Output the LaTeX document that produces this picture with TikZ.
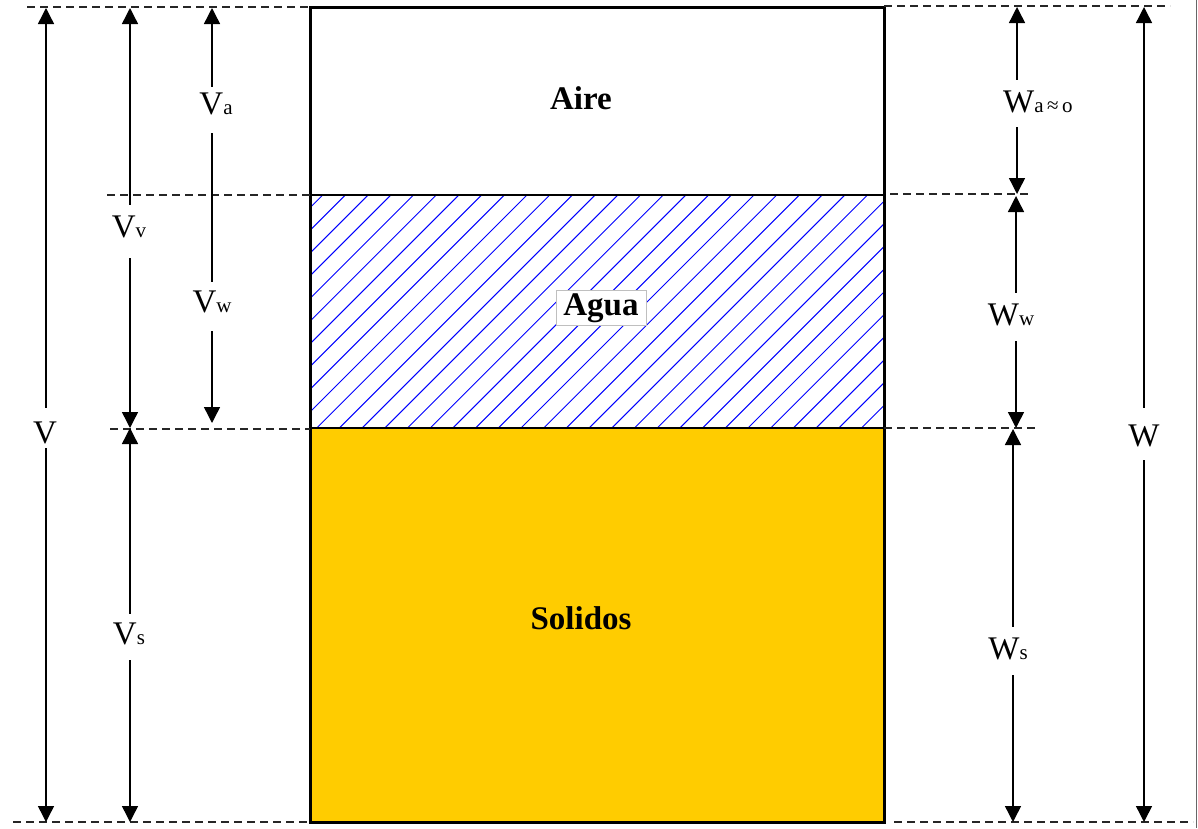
\documentclass[tikz,border=0pt]{standalone}
\usepackage{fontspec}
\setmainfont{Liberation Serif}
\usetikzlibrary{arrows.meta}
\definecolor{soil}{HTML}{FFCC00}
\definecolor{hatchblue}{HTML}{0000FF}
\newcommand\lsub[1]{{\fontsize{21}{22}\selectfont #1}}
\begin{document}
\begin{tikzpicture}[x=1pt,y=-1pt,
  dim/.style={line width=1.4pt,-{Triangle[length=16pt,width=16pt]}},
  plainline/.style={line width=1.4pt},
  guide/.style={line width=1.3pt,dash pattern=on 8pt off 5pt,black!85},
  lab/.style={font=\fontsize{33}{36}\selectfont,inner xsep=0pt,inner ysep=0pt,anchor=base},
  ttl/.style={font=\fontsize{33}{36}\selectfont\bfseries,inner sep=0pt},
  hatch/.style={hatchblue,line width=1pt}
]
\useasboundingbox (0,0) rectangle (1198,828);
% layers
\fill[soil] (310,428) rectangle (884,822);
\begin{scope}
  \clip (310,195) rectangle (884,428);
  \foreach \k in {-1,...,37} {
    \pgfmathsetmacro\s{517.7+22.7*\k}
    \draw[hatch] (\s-195,195) -- (\s-428,428);
  }
\end{scope}
\draw[line width=1.5pt] (310,195) -- (884,195);
\draw[line width=2pt] (310,428) -- (884,428);
\draw[line width=3pt] (310,7) rectangle (884,822);
\node[ttl] (aire) at (581,98) {Aire};
\node[ttl,draw=black!25,line width=1pt,fill=white,minimum width=90pt,minimum height=35pt,text height=23pt,text depth=7pt] (agua) at (601,307.5) {Agua};
\node[ttl] (sol) at (581,618) {Solidos};
% guides
\draw[guide] (27,7) -- (310,7);
\draw[guide] (107,195) -- (310,195);
\draw[guide] (110,429) -- (310,429);
\draw[guide] (13,822) -- (310,822);
\draw[guide] (884,6) -- (1170,6);
\draw[guide] (890,194) -- (1030,194);
\draw[guide] (884,428) -- (1036,428);
\draw[guide] (894,822) -- (1193,822);
% frame line right
\draw[black!60,line width=1pt] (1196,0) -- (1196,828);
% coordinates of arrow tips
\coordinate (vtop) at (46,8);
\coordinate (vbot) at (46,822);
\coordinate (vvtop) at (130,8);
\coordinate (vvbot) at (130,428);
\coordinate (vstop) at (130,428);
\coordinate (vsbot) at (130,822);
\coordinate (vatop) at (212,8);
\coordinate (vwbot) at (212,423);
\coordinate (watop) at (1017,7);
\coordinate (wabot) at (1017,194);
\coordinate (wwtop) at (1016,196);
\coordinate (wwbot) at (1016,428);
\coordinate (wstop) at (1013,429);
\coordinate (wsbot) at (1013,822);
\coordinate (wtop) at (1144,7);
\coordinate (wbot) at (1144,822);
% labels
\node[lab,text height=27pt,text depth=19pt] (Va) at (216,114) {V\lsub{a}};
\node[lab,text height=32pt,text depth=21pt] (Vv) at (129,237) {V\lsub{v}};
\node[lab,text height=30pt,text depth=19pt] (Vw) at (212,312) {V\lsub{w}};
\node[lab,text height=35pt,text depth=5pt] (V) at (45,443) {V};
\node[lab,text height=30pt,text depth=16pt] (Vs) at (129,644) {V\lsub{s}};
\node[lab,text height=32pt,text depth=15pt,anchor=base west] (Wa) at (1003,112) {W\lsub{a\,≈\,o}};
\node[lab,text height=32pt,text depth=16pt] (Ww) at (1011,325) {W\lsub{w}};
\node[lab,text height=38pt,text depth=14pt] (W) at (1144,446) {W};
\node[lab,text height=32pt,text depth=16pt] (Ws) at (1008,659) {W\lsub{s}};
% dimension arrows
\draw[dim] (V.north -| vtop) -- (vtop);
\draw[dim] (V.south -| vbot) -- (vbot);
\draw[dim] (Vv.north -| vvtop) -- (vvtop);
\draw[dim] (Vv.south -| vvbot) -- (vvbot);
\draw[dim] (Vs.north -| vstop) -- (vstop);
\draw[dim] (Vs.south -| vsbot) -- (vsbot);
\draw[dim] (Va.north -| vatop) -- (vatop);
\draw[plainline] (Va.south -| vatop) -- (Vw.north -| vwbot);
\draw[dim] (Vw.south -| vwbot) -- (vwbot);
\draw[dim] (Wa.north west -| watop) -- (watop);
\draw[dim] (Wa.south west -| wabot) -- (wabot);
\draw[dim] (Ww.north -| wwtop) -- (wwtop);
\draw[dim] (Ww.south -| wwbot) -- (wwbot);
\draw[dim] (Ws.north -| wstop) -- (wstop);
\draw[dim] (Ws.south -| wsbot) -- (wsbot);
\draw[dim] (W.north -| wtop) -- (wtop);
\draw[dim] (W.south -| wbot) -- (wbot);
\end{tikzpicture}
\end{document}
